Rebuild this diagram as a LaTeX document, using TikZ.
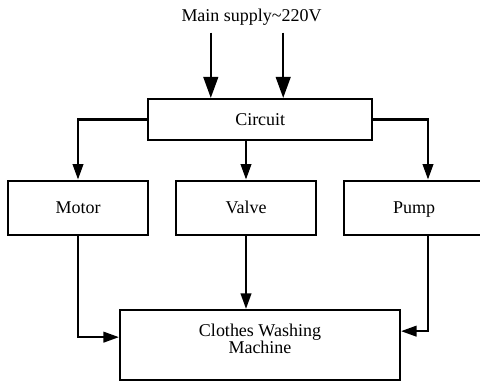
\documentclass[tikz,border=0pt]{standalone}
\usepackage{fontspec}
\setmainfont{Liberation Serif}
\usetikzlibrary{positioning, arrows.meta}

\begin{document}
\begin{tikzpicture}[>={Triangle[length=11pt, width=7.5pt]},
        line width=1.5pt,
        lbl/.style={font=\fontsize{12.8}{11.4}\selectfont},
        blk/.style={lbl, draw, rectangle, minimum width=3.5cm, minimum height=1.36cm,
            inner sep=0, text height=8.5pt, text depth=0pt},
        big/.style={-{Triangle[length=15pt, width=10.5pt]}}]
  \useasboundingbox (0,0) rectangle (12,9.525);
  \node[lbl, anchor=base] (mains) at (6.29,8.975) {Main supply\textasciitilde 220V};
  \coordinate (s1) at (5.27,8.71);
  \coordinate (s2) at (7.08,8.71);
  \node[blk, minimum width=5.61cm, minimum height=1.025cm] (circuit) at (6.506,6.5375) {Circuit};
  \node[blk] (motor) at (1.95,4.33)  {Motor};
  \node[blk] (valve) at (6.15,4.33)  {Valve};
  \node[blk] (pump)  at (10.35,4.33) {Pump};
  \node[lbl, draw, align=center, minimum width=7cm, minimum height=1.74cm, inner sep=0,
        text depth=0.3cm] (machine) at (6.5,0.906) {Clothes Washing\\Machine};
  \draw[big] (s1) -- (s1 |- circuit.north);
  \draw[big] (s2) -- (s2 |- circuit.north);
  \draw[->] (circuit.west) -| (motor.north);
  \draw[->] (valve.north |- circuit.south) -- (valve.north);
  \draw[->] (circuit.east) -| ([xshift=0.35cm]pump.north);
  \draw[->] (motor.south) |- ([yshift=0.19cm]machine.west);
  \draw[->] (valve.south) -- (valve.south |- machine.north);
  \draw[->] ([xshift=0.35cm]pump.south) |- ([yshift=0.34cm]machine.east);
\end{tikzpicture}
\end{document}
